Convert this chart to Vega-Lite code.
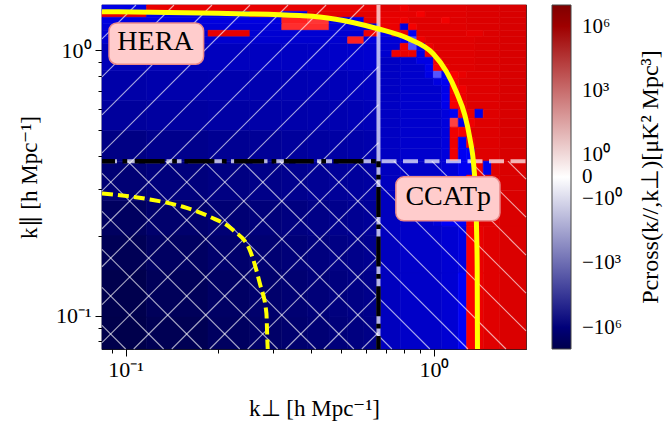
{
  "$schema": "https://vega.github.io/schema/vega-lite/v6.json",
  "width": 424,
  "height": 344,
  "autosize": {"type": "none"},
  "padding": {"left": 102, "top": 5, "right": 142, "bottom": 79},
  "background": "white",
  "config": {
    "view": {"stroke": "#1a1a1a", "strokeWidth": 1.2},
    "axis": {"domain": false, "grid": false, "tickColor": "black", "labelColor": "black", "titleColor": "black", "labelFont": "Liberation Serif", "titleFont": "Liberation Serif", "titleFontWeight": "normal"}
  },
  "resolve": {"axis": {"x": "independent", "y": "independent"}},
  "datasets": {
    "cells": [
      {"x":0.0838,"x2":0.1168,"y":0.0749,"y2":0.0989,"v":-9.9e6},
      {"x":0.1168,"x2":0.185,"y":0.0749,"y2":0.0989,"v":-6.6e6},
      {"x":0.185,"x2":0.253,"y":0.0749,"y2":0.0989,"v":-3.6e6},
      {"x":0.253,"x2":0.321,"y":0.0749,"y2":0.0989,"v":-2.4e6},
      {"x":0.321,"x2":0.389,"y":0.0749,"y2":0.0989,"v":-1.74e6},
      {"x":0.389,"x2":0.457,"y":0.0749,"y2":0.0989,"v":-1.28e6},
      {"x":0.457,"x2":0.525,"y":0.0749,"y2":0.0989,"v":-9.4e5},
      {"x":0.525,"x2":0.593,"y":0.0749,"y2":0.0989,"v":-6.9e5},
      {"x":0.593,"x2":0.661,"y":0.0749,"y2":0.0989,"v":-5.1e5},
      {"x":0.0838,"x2":0.1168,"y":0.0989,"y2":0.1486,"v":-9e6},
      {"x":0.1168,"x2":0.185,"y":0.0989,"y2":0.1486,"v":-4.9e6},
      {"x":0.185,"x2":0.253,"y":0.0989,"y2":0.1486,"v":-2.9e6},
      {"x":0.253,"x2":0.321,"y":0.0989,"y2":0.1486,"v":-1.93e6},
      {"x":0.321,"x2":0.389,"y":0.0989,"y2":0.1486,"v":-1.42e6},
      {"x":0.389,"x2":0.457,"y":0.0989,"y2":0.1486,"v":-1.04e6},
      {"x":0.457,"x2":0.525,"y":0.0989,"y2":0.1486,"v":-7.6e5},
      {"x":0.525,"x2":0.593,"y":0.0989,"y2":0.1486,"v":-5.6e5},
      {"x":0.593,"x2":0.661,"y":0.0989,"y2":0.1486,"v":-4.1e5},
      {"x":0.0838,"x2":0.1168,"y":0.1486,"y2":0.2012,"v":-6e6},
      {"x":0.1168,"x2":0.185,"y":0.1486,"y2":0.2012,"v":-3.2e6},
      {"x":0.185,"x2":0.253,"y":0.1486,"y2":0.2012,"v":-1.93e6},
      {"x":0.253,"x2":0.321,"y":0.1486,"y2":0.2012,"v":-1.42e6},
      {"x":0.321,"x2":0.389,"y":0.1486,"y2":0.2012,"v":-1.04e6},
      {"x":0.389,"x2":0.457,"y":0.1486,"y2":0.2012,"v":-7.6e5},
      {"x":0.457,"x2":0.525,"y":0.1486,"y2":0.2012,"v":-5.6e5},
      {"x":0.525,"x2":0.593,"y":0.1486,"y2":0.2012,"v":-4.1e5},
      {"x":0.593,"x2":0.661,"y":0.1486,"y2":0.2012,"v":-3e5},
      {"x":0.0838,"x2":0.1168,"y":0.2012,"y2":0.2725,"v":-3.6e6},
      {"x":0.1168,"x2":0.185,"y":0.2012,"y2":0.2725,"v":-1.93e6},
      {"x":0.185,"x2":0.253,"y":0.2012,"y2":0.2725,"v":-1.28e6},
      {"x":0.253,"x2":0.321,"y":0.2012,"y2":0.2725,"v":-9.4e5},
      {"x":0.321,"x2":0.389,"y":0.2012,"y2":0.2725,"v":-6.9e5},
      {"x":0.389,"x2":0.457,"y":0.2012,"y2":0.2725,"v":-5.1e5},
      {"x":0.457,"x2":0.525,"y":0.2012,"y2":0.2725,"v":-3.7e5},
      {"x":0.525,"x2":0.593,"y":0.2012,"y2":0.2725,"v":-2.7e5},
      {"x":0.593,"x2":0.661,"y":0.2012,"y2":0.2725,"v":-2e5},
      {"x":0.0838,"x2":0.1168,"y":0.2725,"y2":0.3822,"v":-1.28e6},
      {"x":0.1168,"x2":0.185,"y":0.2725,"y2":0.3822,"v":-8.5e5},
      {"x":0.185,"x2":0.253,"y":0.2725,"y2":0.3822,"v":-6.2e5},
      {"x":0.253,"x2":0.321,"y":0.2725,"y2":0.3822,"v":-4.6e5},
      {"x":0.321,"x2":0.389,"y":0.2725,"y2":0.3822,"v":-3.4e5},
      {"x":0.389,"x2":0.457,"y":0.2725,"y2":0.3822,"v":-2.46e5},
      {"x":0.457,"x2":0.525,"y":0.2725,"y2":0.3822,"v":-2e5},
      {"x":0.525,"x2":0.593,"y":0.2725,"y2":0.3822,"v":-1.6e5},
      {"x":0.593,"x2":0.661,"y":0.2725,"y2":0.3822,"v":-1.33e5},
      {"x":0.0838,"x2":0.1168,"y":0.3822,"y2":0.5,"v":-5.6e5},
      {"x":0.1168,"x2":0.185,"y":0.3822,"y2":0.5,"v":-3.7e5},
      {"x":0.185,"x2":0.253,"y":0.3822,"y2":0.5,"v":-2.7e5},
      {"x":0.253,"x2":0.321,"y":0.3822,"y2":0.5,"v":-2.2e5},
      {"x":0.321,"x2":0.389,"y":0.3822,"y2":0.5,"v":-1.6e5},
      {"x":0.389,"x2":0.457,"y":0.3822,"y2":0.5,"v":-1.33e5},
      {"x":0.457,"x2":0.525,"y":0.3822,"y2":0.5,"v":-1.08e5},
      {"x":0.525,"x2":0.593,"y":0.3822,"y2":0.5,"v":-8.8e4},
      {"x":0.593,"x2":0.661,"y":0.3822,"y2":0.5,"v":-7.2e4},
      {"x":0.0838,"x2":0.1168,"y":0.5,"y2":0.6483,"v":-1.6e5},
      {"x":0.1168,"x2":0.185,"y":0.5,"y2":0.6483,"v":-1.33e5},
      {"x":0.185,"x2":0.253,"y":0.5,"y2":0.6483,"v":-1.08e5},
      {"x":0.253,"x2":0.321,"y":0.5,"y2":0.6483,"v":-8.8e4},
      {"x":0.321,"x2":0.389,"y":0.5,"y2":0.6483,"v":-7.9e4},
      {"x":0.389,"x2":0.457,"y":0.5,"y2":0.6483,"v":-7.2e4},
      {"x":0.457,"x2":0.525,"y":0.5,"y2":0.6483,"v":-5.8e4},
      {"x":0.525,"x2":0.593,"y":0.5,"y2":0.6483,"v":-4.7e4},
      {"x":0.593,"x2":0.661,"y":0.5,"y2":0.6483,"v":-3.9e4},
      {"x":0.0838,"x2":0.1168,"y":0.6483,"y2":0.8409,"v":-8.8e4},
      {"x":0.1168,"x2":0.185,"y":0.6483,"y2":0.8409,"v":-7.2e4},
      {"x":0.185,"x2":0.253,"y":0.6483,"y2":0.8409,"v":-6.5e4},
      {"x":0.253,"x2":0.321,"y":0.6483,"y2":0.8409,"v":-5.8e4},
      {"x":0.321,"x2":0.389,"y":0.6483,"y2":0.8409,"v":-5.3e4},
      {"x":0.389,"x2":0.457,"y":0.6483,"y2":0.8409,"v":-4.7e4},
      {"x":0.457,"x2":0.525,"y":0.6483,"y2":0.8409,"v":-3.9e4},
      {"x":0.525,"x2":0.593,"y":0.6483,"y2":0.8409,"v":-3.2e4},
      {"x":0.593,"x2":0.661,"y":0.6483,"y2":0.8409,"v":-2.6e4},
      {"x":0.0838,"x2":0.1168,"y":0.8409,"y2":1.062,"v":-3.9e4},
      {"x":0.1168,"x2":0.185,"y":0.8409,"y2":1.062,"v":-3.2e4},
      {"x":0.185,"x2":0.253,"y":0.8409,"y2":1.062,"v":-2.85e4},
      {"x":0.253,"x2":0.321,"y":0.8409,"y2":1.062,"v":-2.6e4},
      {"x":0.321,"x2":0.389,"y":0.8409,"y2":1.062,"v":-2.3e4},
      {"x":0.389,"x2":0.457,"y":0.8409,"y2":1.062,"v":-2.1e4},
      {"x":0.457,"x2":0.525,"y":0.8409,"y2":1.062,"v":-1.7e4},
      {"x":0.525,"x2":0.593,"y":0.8409,"y2":1.062,"v":-1.38e4},
      {"x":0.593,"x2":0.661,"y":0.8409,"y2":1.062,"v":-1.13e4},

      {"x":0.0838,"x2":0.1168,"y":1.402,"y2":1.481,"v":-4e3},
      {"x":0.1168,"x2":0.661,"y":1.402,"y2":1.481,"v":5e3},
      {"x":0.0838,"x2":0.1168,"y":1.331,"y2":1.402,"v":5e3},
      {"x":0.1168,"x2":0.253,"y":1.331,"y2":1.402,"v":-4e3},
      {"x":0.253,"x2":0.321,"y":1.331,"y2":1.402,"v":5e3},
      {"x":0.321,"x2":0.389,"y":1.331,"y2":1.402,"v":-4e3},
      {"x":0.389,"x2":0.661,"y":1.331,"y2":1.402,"v":7e3},
      {"x":0.0838,"x2":0.321,"y":1.258,"y2":1.331,"v":-5e3},
      {"x":0.321,"x2":0.389,"y":1.258,"y2":1.331,"v":300},
      {"x":0.389,"x2":0.457,"y":1.258,"y2":1.331,"v":150},
      {"x":0.457,"x2":0.593,"y":1.258,"y2":1.331,"v":-5e3},
      {"x":0.593,"x2":0.661,"y":1.258,"y2":1.331,"v":6e3},
      {"x":0.0838,"x2":0.321,"y":1.189,"y2":1.258,"v":-8e3},
      {"x":0.321,"x2":0.457,"y":1.189,"y2":1.258,"v":200},
      {"x":0.457,"x2":0.661,"y":1.189,"y2":1.258,"v":-8e3},
      {"x":0.0838,"x2":0.185,"y":1.124,"y2":1.189,"v":-1e4},
      {"x":0.185,"x2":0.253,"y":1.124,"y2":1.189,"v":6e3},
      {"x":0.253,"x2":0.593,"y":1.124,"y2":1.189,"v":-1e4},
      {"x":0.593,"x2":0.661,"y":1.124,"y2":1.189,"v":3e3},
      {"x":0.0838,"x2":0.525,"y":1.062,"y2":1.124,"v":-1.2e4},
      {"x":0.525,"x2":0.593,"y":1.062,"y2":1.124,"v":300},
      {"x":0.593,"x2":0.661,"y":1.062,"y2":1.124,"v":-6e3},

      {"x":0.661,"x2":0.7772,"y":1.402,"y2":1.481,"v":9e3},
      {"x":0.7772,"x2":0.827,"y":1.402,"y2":1.481,"v":3e3},
      {"x":0.827,"x2":1.2769,"y":1.402,"y2":1.481,"v":9e3},
      {"x":1.2769,"x2":1.6368,"y":1.402,"y2":1.481,"v":1.2e4},
      {"x":1.6368,"x2":1.99,"y":1.402,"y2":1.481,"v":1.6e4},
      {"x":0.661,"x2":0.88,"y":1.331,"y2":1.402,"v":6e3},
      {"x":0.88,"x2":0.9363,"y":1.331,"y2":1.402,"v":2e3},
      {"x":0.9363,"x2":1.2769,"y":1.331,"y2":1.402,"v":9e3},
      {"x":1.2769,"x2":1.6368,"y":1.331,"y2":1.402,"v":1.2e4},
      {"x":1.6368,"x2":1.99,"y":1.331,"y2":1.402,"v":1.6e4},
      {"x":0.661,"x2":0.7772,"y":1.258,"y2":1.331,"v":5e3},
      {"x":0.7772,"x2":0.827,"y":1.258,"y2":1.331,"v":3e3},
      {"x":0.827,"x2":1.06,"y":1.258,"y2":1.331,"v":9e3},
      {"x":1.06,"x2":1.1279,"y":1.258,"y2":1.331,"v":2.5e3},
      {"x":1.1279,"x2":1.2769,"y":1.258,"y2":1.331,"v":1e4},
      {"x":1.2769,"x2":1.6368,"y":1.258,"y2":1.331,"v":1.2e4},
      {"x":1.6368,"x2":1.99,"y":1.258,"y2":1.331,"v":1.6e4},
      {"x":0.661,"x2":0.7772,"y":1.189,"y2":1.258,"v":4e3},
      {"x":0.7772,"x2":0.827,"y":1.189,"y2":1.258,"v":-5e3},
      {"x":0.827,"x2":0.88,"y":1.189,"y2":1.258,"v":2e3},
      {"x":0.88,"x2":1.2769,"y":1.189,"y2":1.258,"v":9e3},
      {"x":1.2769,"x2":1.6368,"y":1.189,"y2":1.258,"v":1.2e4},
      {"x":1.6368,"x2":1.99,"y":1.189,"y2":1.258,"v":1.6e4},
      {"x":0.661,"x2":0.7305,"y":1.124,"y2":1.189,"v":-3e3},
      {"x":0.7305,"x2":0.7772,"y":1.124,"y2":1.189,"v":3e3},
      {"x":0.7772,"x2":0.827,"y":1.124,"y2":1.189,"v":5e3},
      {"x":0.827,"x2":0.88,"y":1.124,"y2":1.189,"v":-2e3},
      {"x":0.88,"x2":1.2769,"y":1.124,"y2":1.189,"v":9e3},
      {"x":1.2769,"x2":1.4456,"y":1.124,"y2":1.189,"v":6e3},
      {"x":1.4456,"x2":1.6368,"y":1.124,"y2":1.189,"v":1.2e4},
      {"x":1.6368,"x2":1.99,"y":1.124,"y2":1.189,"v":1.6e4},
      {"x":0.661,"x2":0.7772,"y":1.062,"y2":1.124,"v":-8e3},
      {"x":0.7772,"x2":0.827,"y":1.062,"y2":1.124,"v":-2e3},
      {"x":0.827,"x2":0.88,"y":1.062,"y2":1.124,"v":-60},
      {"x":0.88,"x2":0.9363,"y":1.062,"y2":1.124,"v":3e3},
      {"x":0.9363,"x2":1.3588,"y":1.062,"y2":1.124,"v":9e3},
      {"x":1.3588,"x2":1.6368,"y":1.062,"y2":1.124,"v":1.2e4},
      {"x":1.6368,"x2":1.99,"y":1.062,"y2":1.124,"v":1.6e4},
      {"x":0.661,"x2":0.7772,"y":1.0,"y2":1.062,"v":-1e4},
      {"x":0.7772,"x2":0.827,"y":1.0,"y2":1.062,"v":3e3},
      {"x":0.827,"x2":0.88,"y":1.0,"y2":1.062,"v":-60},
      {"x":0.88,"x2":0.9363,"y":1.0,"y2":1.062,"v":-3e3},
      {"x":0.9363,"x2":0.9963,"y":1.0,"y2":1.062,"v":4e3},
      {"x":0.9963,"x2":1.3588,"y":1.0,"y2":1.062,"v":9e3},
      {"x":1.3588,"x2":1.6368,"y":1.0,"y2":1.062,"v":1.2e4},
      {"x":1.6368,"x2":1.99,"y":1.0,"y2":1.062,"v":1.6e4},
      {"x":0.661,"x2":0.7305,"y":0.941,"y2":1.0,"v":-1.2e4},
      {"x":0.7305,"x2":0.7772,"y":0.941,"y2":1.0,"v":3e3},
      {"x":0.7772,"x2":0.827,"y":0.941,"y2":1.0,"v":5e3},
      {"x":0.827,"x2":0.88,"y":0.941,"y2":1.0,"v":4e3},
      {"x":0.88,"x2":0.9363,"y":0.941,"y2":1.0,"v":-4e3},
      {"x":0.9363,"x2":0.9963,"y":0.941,"y2":1.0,"v":3e3},
      {"x":0.9963,"x2":1.3588,"y":0.941,"y2":1.0,"v":9e3},
      {"x":1.3588,"x2":1.6368,"y":0.941,"y2":1.0,"v":1.2e4},
      {"x":1.6368,"x2":1.99,"y":0.941,"y2":1.0,"v":1.6e4},
      {"x":0.661,"x2":0.7772,"y":0.886,"y2":0.941,"v":-2.2e4},
      {"x":0.7772,"x2":0.88,"y":0.886,"y2":0.941,"v":-1.4e4},
      {"x":0.88,"x2":0.9963,"y":0.886,"y2":0.941,"v":-4e3},
      {"x":0.9963,"x2":1.06,"y":0.886,"y2":0.941,"v":4e3},
      {"x":1.06,"x2":1.3588,"y":0.886,"y2":0.941,"v":9e3},
      {"x":1.3588,"x2":1.6368,"y":0.886,"y2":0.941,"v":1.2e4},
      {"x":1.6368,"x2":1.99,"y":0.886,"y2":0.941,"v":1.6e4},
      {"x":0.661,"x2":0.7772,"y":0.834,"y2":0.886,"v":-2.2e4},
      {"x":0.7772,"x2":0.9363,"y":0.834,"y2":0.886,"v":-1.4e4},
      {"x":0.9363,"x2":0.9963,"y":0.834,"y2":0.886,"v":-3e3},
      {"x":0.9963,"x2":1.06,"y":0.834,"y2":0.886,"v":2e3},
      {"x":1.06,"x2":1.1279,"y":0.834,"y2":0.886,"v":4e3},
      {"x":1.1279,"x2":1.3588,"y":0.834,"y2":0.886,"v":9e3},
      {"x":1.3588,"x2":1.6368,"y":0.834,"y2":0.886,"v":1.2e4},
      {"x":1.6368,"x2":1.99,"y":0.834,"y2":0.886,"v":1.6e4},
      {"x":0.661,"x2":0.7772,"y":0.7845,"y2":0.834,"v":-2.2e4},
      {"x":0.7772,"x2":0.9363,"y":0.7845,"y2":0.834,"v":-1.4e4},
      {"x":0.9363,"x2":0.9963,"y":0.7845,"y2":0.834,"v":-4e3},
      {"x":0.9963,"x2":1.06,"y":0.7845,"y2":0.834,"v":-50},
      {"x":1.06,"x2":1.1279,"y":0.7845,"y2":0.834,"v":-2e3},
      {"x":1.1279,"x2":1.2,"y":0.7845,"y2":0.834,"v":1.5e3},
      {"x":1.2,"x2":1.2769,"y":0.7845,"y2":0.834,"v":5e3},
      {"x":1.2769,"x2":1.6368,"y":0.7845,"y2":0.834,"v":1e4},
      {"x":1.6368,"x2":1.99,"y":0.7845,"y2":0.834,"v":1.6e4},
      {"x":0.661,"x2":0.7772,"y":0.7354,"y2":0.7845,"v":-2.2e4},
      {"x":0.7772,"x2":0.9963,"y":0.7354,"y2":0.7845,"v":-1.4e4},
      {"x":0.9963,"x2":1.06,"y":0.7354,"y2":0.7845,"v":-5e3},
      {"x":1.06,"x2":1.1279,"y":0.7354,"y2":0.7845,"v":-2e3},
      {"x":1.1279,"x2":1.2,"y":0.7354,"y2":0.7845,"v":2e3},
      {"x":1.2,"x2":1.6368,"y":0.7354,"y2":0.7845,"v":1e4},
      {"x":1.6368,"x2":1.99,"y":0.7354,"y2":0.7845,"v":1.6e4},
      {"x":0.661,"x2":0.7772,"y":0.689,"y2":0.7354,"v":-2.2e4},
      {"x":0.7772,"x2":1.06,"y":0.689,"y2":0.7354,"v":-1.3e4},
      {"x":1.06,"x2":1.1279,"y":0.689,"y2":0.7354,"v":-3e3},
      {"x":1.1279,"x2":1.2,"y":0.689,"y2":0.7354,"v":1e3},
      {"x":1.2,"x2":1.2769,"y":0.689,"y2":0.7354,"v":3e3},
      {"x":1.2769,"x2":1.6368,"y":0.689,"y2":0.7354,"v":1e4},
      {"x":1.6368,"x2":1.99,"y":0.689,"y2":0.7354,"v":1.6e4},
      {"x":0.661,"x2":0.7772,"y":0.6428,"y2":0.689,"v":-2.2e4},
      {"x":0.7772,"x2":1.06,"y":0.6428,"y2":0.689,"v":-1.3e4},
      {"x":1.06,"x2":1.1279,"y":0.6428,"y2":0.689,"v":-2.5e3},
      {"x":1.1279,"x2":1.2,"y":0.6428,"y2":0.689,"v":1.5e3},
      {"x":1.2,"x2":1.2769,"y":0.6428,"y2":0.689,"v":4e3},
      {"x":1.2769,"x2":1.6368,"y":0.6428,"y2":0.689,"v":1e4},
      {"x":1.6368,"x2":1.99,"y":0.6428,"y2":0.689,"v":1.6e4},
      {"x":0.661,"x2":0.7772,"y":0.5997,"y2":0.6428,"v":-2.2e4},
      {"x":0.7772,"x2":1.06,"y":0.5997,"y2":0.6428,"v":-1.3e4},
      {"x":1.06,"x2":1.1279,"y":0.5997,"y2":0.6428,"v":-3e3},
      {"x":1.1279,"x2":1.2,"y":0.5997,"y2":0.6428,"v":2e3},
      {"x":1.2,"x2":1.2769,"y":0.5997,"y2":0.6428,"v":3e3},
      {"x":1.2769,"x2":1.6368,"y":0.5997,"y2":0.6428,"v":1e4},
      {"x":1.6368,"x2":1.99,"y":0.5997,"y2":0.6428,"v":1.6e4},
      {"x":0.661,"x2":0.7772,"y":0.5545,"y2":0.5997,"v":-2.2e4},
      {"x":0.7772,"x2":1.06,"y":0.5545,"y2":0.5997,"v":-1.3e4},
      {"x":1.06,"x2":1.1279,"y":0.5545,"y2":0.5997,"v":-6e3},
      {"x":1.1279,"x2":1.2,"y":0.5545,"y2":0.5997,"v":-2e3},
      {"x":1.2,"x2":1.2769,"y":0.5545,"y2":0.5997,"v":2e3},
      {"x":1.2769,"x2":1.3588,"y":0.5545,"y2":0.5997,"v":5e3},
      {"x":1.3588,"x2":1.4456,"y":0.5545,"y2":0.5997,"v":-3e3},
      {"x":1.4456,"x2":1.6368,"y":0.5545,"y2":0.5997,"v":1e4},
      {"x":1.6368,"x2":1.99,"y":0.5545,"y2":0.5997,"v":1.6e4},
      {"x":0.661,"x2":0.7772,"y":0.5131,"y2":0.5545,"v":-2.2e4},
      {"x":0.7772,"x2":1.06,"y":0.5131,"y2":0.5545,"v":-1.3e4},
      {"x":1.06,"x2":1.1279,"y":0.5131,"y2":0.5545,"v":-6e3},
      {"x":1.1279,"x2":1.2,"y":0.5131,"y2":0.5545,"v":100},
      {"x":1.2,"x2":1.2769,"y":0.5131,"y2":0.5545,"v":-3e3},
      {"x":1.2769,"x2":1.3588,"y":0.5131,"y2":0.5545,"v":3e3},
      {"x":1.3588,"x2":1.6368,"y":0.5131,"y2":0.5545,"v":1e4},
      {"x":1.6368,"x2":1.99,"y":0.5131,"y2":0.5545,"v":1.6e4},
      {"x":0.661,"x2":0.7772,"y":0.4706,"y2":0.5131,"v":-2.2e4},
      {"x":0.7772,"x2":1.06,"y":0.4706,"y2":0.5131,"v":-1.3e4},
      {"x":1.06,"x2":1.1279,"y":0.4706,"y2":0.5131,"v":-6e3},
      {"x":1.1279,"x2":1.2,"y":0.4706,"y2":0.5131,"v":3e3},
      {"x":1.2,"x2":1.2769,"y":0.4706,"y2":0.5131,"v":2e3},
      {"x":1.2769,"x2":1.6368,"y":0.4706,"y2":0.5131,"v":1e4},
      {"x":1.6368,"x2":1.99,"y":0.4706,"y2":0.5131,"v":1.6e4},
      {"x":0.661,"x2":0.7772,"y":0.4278,"y2":0.4706,"v":-2.2e4},
      {"x":0.7772,"x2":1.06,"y":0.4278,"y2":0.4706,"v":-1.3e4},
      {"x":1.06,"x2":1.1279,"y":0.4278,"y2":0.4706,"v":-6e3},
      {"x":1.1279,"x2":1.2,"y":0.4278,"y2":0.4706,"v":4e3},
      {"x":1.2,"x2":1.2769,"y":0.4278,"y2":0.4706,"v":-2e3},
      {"x":1.2769,"x2":1.3588,"y":0.4278,"y2":0.4706,"v":3e3},
      {"x":1.3588,"x2":1.6368,"y":0.4278,"y2":0.4706,"v":1e4},
      {"x":1.6368,"x2":1.99,"y":0.4278,"y2":0.4706,"v":1.6e4},
      {"x":0.661,"x2":0.7772,"y":0.3822,"y2":0.4278,"v":-2.2e4},
      {"x":0.7772,"x2":1.06,"y":0.3822,"y2":0.4278,"v":-1.3e4},
      {"x":1.06,"x2":1.1279,"y":0.3822,"y2":0.4278,"v":-6e3},
      {"x":1.1279,"x2":1.2,"y":0.3822,"y2":0.4278,"v":3e3},
      {"x":1.2,"x2":1.2769,"y":0.3822,"y2":0.4278,"v":-2e3},
      {"x":1.2769,"x2":1.3588,"y":0.3822,"y2":0.4278,"v":-1.5e3},
      {"x":1.3588,"x2":1.6368,"y":0.3822,"y2":0.4278,"v":1e4},
      {"x":1.6368,"x2":1.99,"y":0.3822,"y2":0.4278,"v":1.6e4},

      {"x":0.661,"x2":0.7772,"y":0.3385,"y2":0.3822,"v":-2.8e4},
      {"x":0.7772,"x2":1.06,"y":0.3385,"y2":0.3822,"v":-1.7e4},
      {"x":1.06,"x2":1.2,"y":0.3385,"y2":0.3822,"v":-8e3},
      {"x":1.2,"x2":1.3588,"y":0.3385,"y2":0.3822,"v":-2e3},
      {"x":1.3588,"x2":1.4456,"y":0.3385,"y2":0.3822,"v":3e3},
      {"x":1.4456,"x2":1.5382,"y":0.3385,"y2":0.3822,"v":-3e3},
      {"x":1.5382,"x2":1.6368,"y":0.3385,"y2":0.3822,"v":9e3},
      {"x":1.6368,"x2":1.99,"y":0.3385,"y2":0.3822,"v":1.4e4},
      {"x":0.661,"x2":0.7772,"y":0.2972,"y2":0.3385,"v":-2.8e4},
      {"x":0.7772,"x2":1.06,"y":0.2972,"y2":0.3385,"v":-1.7e4},
      {"x":1.06,"x2":1.2,"y":0.2972,"y2":0.3385,"v":-8e3},
      {"x":1.2,"x2":1.2769,"y":0.2972,"y2":0.3385,"v":-3e3},
      {"x":1.2769,"x2":1.3588,"y":0.2972,"y2":0.3385,"v":1.5e3},
      {"x":1.3588,"x2":1.6368,"y":0.2972,"y2":0.3385,"v":9e3},
      {"x":1.6368,"x2":1.99,"y":0.2972,"y2":0.3385,"v":1.4e4},
      {"x":0.661,"x2":0.7772,"y":0.2176,"y2":0.2972,"v":-2.8e4},
      {"x":0.7772,"x2":0.9963,"y":0.2176,"y2":0.2972,"v":-1.7e4},
      {"x":0.9963,"x2":1.06,"y":0.2176,"y2":0.2972,"v":-8e3},
      {"x":1.06,"x2":1.2769,"y":0.2176,"y2":0.2972,"v":-1.5e3},
      {"x":1.2769,"x2":1.3588,"y":0.2176,"y2":0.2972,"v":1.5e3},
      {"x":1.3588,"x2":1.6368,"y":0.2176,"y2":0.2972,"v":9e3},
      {"x":1.6368,"x2":1.99,"y":0.2176,"y2":0.2972,"v":1.4e4},
      {"x":0.661,"x2":0.7772,"y":0.1448,"y2":0.2176,"v":-2.8e4},
      {"x":0.7772,"x2":1.06,"y":0.1448,"y2":0.2176,"v":-1.7e4},
      {"x":1.06,"x2":1.2,"y":0.1448,"y2":0.2176,"v":-1e4},
      {"x":1.2,"x2":1.2769,"y":0.1448,"y2":0.2176,"v":-5e3},
      {"x":1.2769,"x2":1.3588,"y":0.1448,"y2":0.2176,"v":1.2e3},
      {"x":1.3588,"x2":1.4456,"y":0.1448,"y2":0.2176,"v":5e3},
      {"x":1.4456,"x2":1.6368,"y":0.1448,"y2":0.2176,"v":9e3},
      {"x":1.6368,"x2":1.99,"y":0.1448,"y2":0.2176,"v":1.4e4},
      {"x":0.661,"x2":0.7772,"y":0.0749,"y2":0.1448,"v":-2.8e4},
      {"x":0.7772,"x2":1.06,"y":0.0749,"y2":0.1448,"v":-1.7e4},
      {"x":1.06,"x2":1.2,"y":0.0749,"y2":0.1448,"v":-1e4},
      {"x":1.2,"x2":1.2769,"y":0.0749,"y2":0.1448,"v":-1.5e3},
      {"x":1.2769,"x2":1.3588,"y":0.0749,"y2":0.1448,"v":1.2e3},
      {"x":1.3588,"x2":1.4456,"y":0.0749,"y2":0.1448,"v":4e3},
      {"x":1.4456,"x2":1.6368,"y":0.0749,"y2":0.1448,"v":9e3},
      {"x":1.6368,"x2":1.99,"y":0.0749,"y2":0.1448,"v":1.4e4}
    ],
    "hatch": [
      {"x":0.0838,"y":1.1029,"x2":0.108,"y2":1.481},
      {"x":0.0838,"y":0.7934,"x2":0.1435,"y2":1.481},
      {"x":0.0838,"y":0.5707,"x2":0.1906,"y2":1.481},
      {"x":0.0838,"y":0.4108,"x2":0.2532,"y2":1.481},
      {"x":0.0838,"y":0.2955,"x2":0.3364,"y2":1.481},
      {"x":0.0838,"y":0.2126,"x2":0.447,"y2":1.481},
      {"x":0.0838,"y":0.1529,"x2":0.5938,"y2":1.481},
      {"x":0.0838,"y":0.11,"x2":0.661,"y2":1.2058},
      {"x":0.0838,"y":0.0791,"x2":0.661,"y2":0.8675},
      {"x":0.1062,"y":0.0749,"x2":0.661,"y2":0.624},
      {"x":0.1411,"y":0.0749,"x2":0.661,"y2":0.449},
      {"x":0.1874,"y":0.0749,"x2":0.661,"y2":0.323},
      {"x":0.2489,"y":0.0749,"x2":0.661,"y2":0.2324},
      {"x":0.3307,"y":0.0749,"x2":0.661,"y2":0.1672},
      {"x":0.4394,"y":0.0749,"x2":0.661,"y2":0.1202},
      {"x":0.5838,"y":0.0749,"x2":0.661,"y2":0.0865},
      {"x":0.0838,"y":0.092,"x2":0.1,"y2":0.0749},
      {"x":0.0838,"y":0.1279,"x2":0.1328,"y2":0.0749},
      {"x":0.0838,"y":0.1778,"x2":0.1765,"y2":0.0749},
      {"x":0.0838,"y":0.2471,"x2":0.2345,"y2":0.0749},
      {"x":0.0838,"y":0.3435,"x2":0.3114,"y2":0.0749},
      {"x":0.1015,"y":0.3822,"x2":0.4139,"y2":0.0749},
      {"x":0.1349,"y":0.3822,"x2":0.5499,"y2":0.0749},
      {"x":0.1792,"y":0.3822,"x2":0.7307,"y2":0.0749},
      {"x":0.238,"y":0.3822,"x2":0.9705,"y2":0.0749},
      {"x":0.3162,"y":0.3822,"x2":1.2894,"y2":0.0749},
      {"x":0.4201,"y":0.3822,"x2":1.7133,"y2":0.0749},
      {"x":0.558,"y":0.3822,"x2":1.99,"y2":0.0876},
      {"x":0.7417,"y":0.3822,"x2":1.99,"y2":0.1217},
      {"x":0.9851,"y":0.3822,"x2":1.99,"y2":0.1692},
      {"x":1.3088,"y":0.3822,"x2":1.99,"y2":0.2351},
      {"x":1.7391,"y":0.3822,"x2":1.99,"y2":0.3269}
    ],
    "solid": [
      {"o":1,"x":0.0838,"y":1.398},
      {"o":2,"x":0.2,"y":1.378},
      {"o":3,"x":0.3672,"y":1.351},
      {"o":4,"x":0.4264,"y":1.335},
      {"o":5,"x":0.55,"y":1.27},
      {"o":6,"x":0.658,"y":1.205},
      {"o":7,"x":0.8358,"y":1.1},
      {"o":8,"x":0.9948,"y":0.97},
      {"o":9,"x":1.099,"y":0.83},
      {"o":10,"x":1.185,"y":0.693},
      {"o":11,"x":1.26,"y":0.57},
      {"o":12,"x":1.309,"y":0.465},
      {"o":13,"x":1.349,"y":0.36},
      {"o":14,"x":1.369,"y":0.27},
      {"o":15,"x":1.377,"y":0.2},
      {"o":16,"x":1.382,"y":0.153},
      {"o":17,"x":1.385,"y":0.0749}
    ],
    "dashed": [
      {"o":1,"x":0.0838,"y":0.289},
      {"o":2,"x":0.1197,"y":0.2742},
      {"o":3,"x":0.1535,"y":0.2572},
      {"o":4,"x":0.1874,"y":0.2359},
      {"o":5,"x":0.2231,"y":0.2102},
      {"o":6,"x":0.2527,"y":0.1768},
      {"o":7,"x":0.2724,"y":0.1324},
      {"o":8,"x":0.2862,"y":0.1021},
      {"o":9,"x":0.2884,"y":0.0787},
      {"o":10,"x":0.289,"y":0.0749}
    ],
    "dashdot": [
      {"x":0.0838,"x2":0.661,"y":0.3822,"y2":0.3822},
      {"x":0.661,"x2":0.661,"y":0.0749,"y2":0.3822}
    ],
    "boxes": [
      {"x":0.0883,"x2":0.179,"y":0.886,"y2":1.267},
      {"x":0.7527,"x2":1.638,"y":0.2278,"y2":0.3336}
    ],
    "labels": [
      {"x":0.1249,"y":1.0,"t":"HERA"},
      {"x":1.113,"y":0.261,"t":"CCATp"}
    ]
  },
  "layer": [
    {
      "data": {"name": "cells"},
      "mark": {"type": "rect", "strokeWidth": 0.6, "stroke": {"expr": "scale('color', datum.v)"}},
      "encoding": {
        "x": {"field": "x", "type": "quantitative",
          "scale": {"type": "log", "domain": [0.0838, 1.99], "nice": false},
          "axis": {
            "orient": "bottom",
            "title": "k⊥ [h Mpc⁻¹]",
            "values": [0.1, 1],
            "labelExpr": "datum.value < 0.5 ? '10⁻¹' : '10⁰'",
            "tickSize": 7,
            "tickWidth": 1,
            "labelFontSize": 22,
            "labelPadding": 3,
            "labelOverlap": false,
            "labelFlush": false,
            "titleFontSize": 23,
            "titlePadding": 17
          }},
        "x2": {"field": "x2"},
        "y": {"field": "y", "type": "quantitative",
          "scale": {"type": "log", "domain": [0.0749, 1.481], "nice": false},
          "axis": {
            "orient": "left",
            "title": "k∥ [h Mpc⁻¹]",
            "values": [0.1, 1],
            "labelExpr": "datum.value < 0.5 ? '10⁻¹' : '10⁰'",
            "tickSize": 7,
            "tickWidth": 1,
            "labelFontSize": 22,
            "labelPadding": 4,
            "labelOverlap": false,
            "labelFlush": false,
            "titleFontSize": 23,
            "titlePadding": 14
          }},
        "y2": {"field": "y2"},
        "color": {"field": "v", "type": "quantitative",
          "scale": {"type": "symlog", "constant": 0.1, "domain": [-10000000, -1000, 0, 1000, 10000000],
            "range": ["#00004c", "#0000ff", "#ffffff", "#ff0000", "#7f0000"], "interpolate": "rgb"},
          "legend": {
            "type": "gradient",
            "title": "Pcross(k//,k⊥)[μK² Mpc³]",
            "orient": "right",
            "offset": 26,
            "direction": "vertical",
            "gradientLength": 344,
            "gradientThickness": 19,
            "gradientStrokeColor": "#444",
            "gradientStrokeWidth": 1,
            "values": [-1000000, -1000, -1, 0, 1, 1000, 1000000],
            "labelExpr": "datum.value == 1000000 ? '10⁶' : datum.value == 1000 ? '10³' : datum.value == 1 ? '10⁰' : datum.value == 0 ? '0' : datum.value == -1 ? '−10⁰' : datum.value == -1000 ? '−10³' : '−10⁶'",
            "labelFont": "Liberation Serif",
            "labelFontSize": 21,
            "labelColor": "black",
            "labelOffset": 11,
            "labelOverlap": false,
            "titleOrient": "right",
            "titleAnchor": "middle",
            "titleFont": "Liberation Serif",
            "titleFontSize": 24,
            "titleFontWeight": "normal",
            "titleColor": "black",
            "titleLimit": 400,
            "titlePadding": 17,
            "titleBaseline": "top",
            "encode": {"title": {"update": {"angle": {"value": 270}, "baseline": {"value": "top"}}}}
          }}
      }
    },
    {
      "data": {"name": "hatch"},
      "mark": {"type": "rule", "color": "white", "opacity": 0.65, "strokeWidth": 1.1},
      "encoding": {
        "x": {"field": "x", "type": "quantitative",
          "axis": {"orient": "bottom", "values": [0.09, 0.2, 0.3, 0.4, 0.5, 0.6, 0.7, 0.8, 0.9], "labels": false, "tickSize": 4, "tickWidth": 1, "title": null}},
        "y": {"field": "y", "type": "quantitative",
          "axis": {"orient": "left", "values": [0.08, 0.09, 0.2, 0.3, 0.4, 0.5, 0.6, 0.7, 0.8, 0.9], "labels": false, "tickSize": 4, "tickWidth": 1, "title": null}},
        "x2": {"field": "x2"},
        "y2": {"field": "y2"}
      }
    },
    {
      "data": {"values": [{"x": 0.661, "y": 0.0749, "y2": 1.481}]},
      "mark": {"type": "rule", "color": "white", "opacity": 0.7, "strokeWidth": 4},
      "encoding": {
        "x": {"field": "x", "type": "quantitative", "axis": null},
        "y": {"field": "y", "type": "quantitative", "axis": null},
        "y2": {"field": "y2"}
      }
    },
    {
      "data": {"values": [{"x": 0.0838, "x2": 1.99, "y": 0.3822}]},
      "mark": {"type": "rule", "color": "white", "opacity": 0.7, "strokeWidth": 4, "strokeDash": [15, 6.5]},
      "encoding": {
        "x": {"field": "x", "type": "quantitative", "axis": null},
        "x2": {"field": "x2"},
        "y": {"field": "y", "type": "quantitative", "axis": null}
      }
    },
    {
      "data": {"name": "dashdot"},
      "mark": {"type": "rule", "color": "black", "strokeWidth": 4.5, "strokeDash": [30, 7.5, 4.7, 7.5], "strokeDashOffset": 17},
      "encoding": {
        "x": {"field": "x", "type": "quantitative", "axis": null},
        "x2": {"field": "x2"},
        "y": {"field": "y", "type": "quantitative", "axis": null},
        "y2": {"field": "y2"}
      }
    },
    {
      "data": {"name": "solid"},
      "mark": {"type": "line", "color": "#ffff00", "strokeWidth": 5, "interpolate": "monotone", "clip": true},
      "encoding": {
        "x": {"field": "x", "type": "quantitative", "axis": null},
        "y": {"field": "y", "type": "quantitative", "axis": null},
        "order": {"field": "o"}
      }
    },
    {
      "data": {"name": "dashed"},
      "mark": {"type": "line", "color": "#ffff00", "strokeWidth": 4, "strokeDash": [11, 5], "interpolate": "monotone", "clip": true},
      "encoding": {
        "x": {"field": "x", "type": "quantitative", "axis": null},
        "y": {"field": "y", "type": "quantitative", "axis": null},
        "order": {"field": "o"}
      }
    },
    {
      "data": {"name": "boxes"},
      "mark": {"type": "rect", "fill": "#ffcccc", "stroke": "#ea8a8a", "strokeWidth": 1.5, "cornerRadius": 8},
      "encoding": {
        "x": {"field": "x", "type": "quantitative", "axis": null},
        "x2": {"field": "x2"},
        "y": {"field": "y", "type": "quantitative", "axis": null},
        "y2": {"field": "y2"}
      }
    },
    {
      "data": {"name": "labels"},
      "mark": {"type": "text", "font": "Liberation Serif", "fontSize": 28, "align": "center", "baseline": "alphabetic", "color": "black"},
      "encoding": {
        "x": {"field": "x", "type": "quantitative", "axis": null},
        "y": {"field": "y", "type": "quantitative", "axis": null},
        "text": {"field": "t"}
      }
    }
  ]
}
